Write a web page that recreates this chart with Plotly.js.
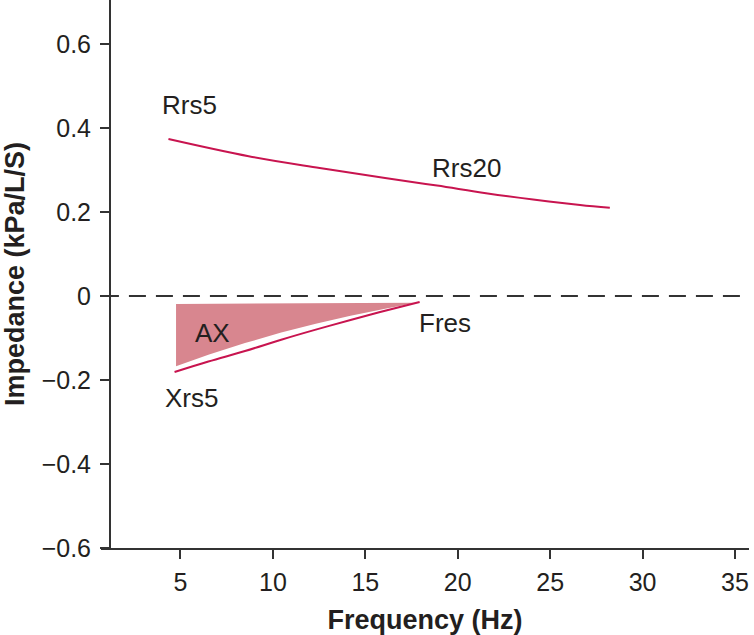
<!DOCTYPE html>
<html><head><meta charset="utf-8">
<script src="https://cdn.plot.ly/plotly-3.0.1.min.js"></script>
<style>html,body{margin:0;padding:0;background:#fff}#chart{width:754px;height:635px}</style>
</head><body><div id="chart"></div>
<script>
// Data
const rrsFreq = [4.35, 8.69, 12.53, 16.07, 18.88, 21.53, 24.08, 26.62, 28.23];
const rrsValue = [0.374, 0.333, 0.305, 0.281, 0.263, 0.245, 0.230, 0.217, 0.210];
const xrsFreq = [4.68, 6.51, 8.49, 10.45, 12.32, 14.2, 16.07, 17.94];
const xrsValue = [-0.181, -0.156, -0.131, -0.104, -0.080, -0.057, -0.035, -0.014];
const axFreq = [4.76, 17.76, 16.07, 14.2, 12.32, 10.45, 8.49, 6.51, 4.76, 4.76];
const axValue = [-0.019, -0.016, -0.030, -0.047, -0.066, -0.087, -0.112, -0.140, -0.167, -0.019];
const zeroFreq = [0.75, 35.28];
const zeroValue = [0, 0];
const xTicks = [5, 10, 15, 20, 25, 30, 35];
const yTicks = [-0.6, -0.4, -0.2, 0, 0.2, 0.4, 0.6];
const yTickText = ['\u22120.6', '\u22120.4', '\u22120.2', '0', '0.2', '0.4', '0.6'];
const labelText = ['Rrs5', 'Rrs20', 'Fres', 'AX', 'Xrs5'];
const labelX = [5.51, 20.5, 19.29, 6.73, 5.62];
const labelY = [0.455, 0.305, -0.064, -0.088, -0.243];

const ink = '#231f20';
const crimson = '#c8144f';
const FONT = '"Liberation Sans", Arial, Helvetica, sans-serif';

const traces = [
  {x: axFreq, y: axValue, type: 'scatter', mode: 'lines', fill: 'toself',
   fillcolor: '#d8868f', line: {width: 0, color: '#d8868f'}, hoverinfo: 'skip', showlegend: false},
  {x: zeroFreq, y: zeroValue, type: 'scatter', mode: 'lines',
   line: {color: '#333333', width: 2, dash: '17px,10px'}, showlegend: false},
  {x: rrsFreq, y: rrsValue, type: 'scatter', mode: 'lines', name: 'Rrs',
   line: {color: crimson, width: 2, shape: 'spline', smoothing: 1}, showlegend: false},
  {x: xrsFreq, y: xrsValue, type: 'scatter', mode: 'lines', name: 'Xrs',
   line: {color: crimson, width: 2, shape: 'spline', smoothing: 1}, showlegend: false}
];

const annotations = labelText.map((t, i) => ({
  x: labelX[i], y: labelY[i], xref: 'x', yref: 'y', text: t, showarrow: false,
  font: {family: FONT, size: 26, color: ink}, xanchor: 'center', yanchor: 'middle'
}));

const layout = {
  width: 754, height: 635,
  margin: {l: 101, r: 5, t: 0, b: 87},
  paper_bgcolor: '#ffffff', plot_bgcolor: '#ffffff',
  font: {family: FONT, color: ink},
  showlegend: false,
  xaxis: {
    range: [0.70, 35.76], tickvals: xTicks, ticks: 'outside', ticklen: 9, tickwidth: 2,
    tickcolor: '#333333', showline: true, linecolor: '#333333', linewidth: 2,
    showgrid: false, zeroline: false, anchor: 'y',
    tickfont: {family: FONT, size: 25, color: ink}, ticklabelstandoff: 2,
    title: {text: 'Frequency (Hz)', font: {family: FONT, size: 27, color: ink, weight: 'bold'}, standoff: 16}
  },
  yaxis: {
    range: [-0.6, 0.705], tickvals: yTicks, ticktext: yTickText, ticks: 'outside', ticklen: 9,
    tickwidth: 2, tickcolor: '#333333', showline: true, linecolor: '#333333', linewidth: 2,
    showgrid: false, zeroline: false, anchor: 'free', position: 0.0139,
    tickfont: {family: FONT, size: 25, color: ink}, ticklabelstandoff: 4,
    title: {text: 'Impedance (kPa/L/S)', font: {family: FONT, size: 27, color: ink, weight: 'bold'}, standoff: 8}
  },
  annotations: annotations
};

Plotly.newPlot('chart', traces, layout, {displayModeBar: false, staticPlot: true});
</script>
</body></html>
